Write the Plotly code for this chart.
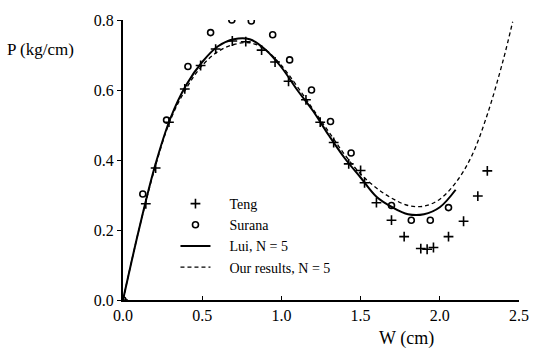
import plotly.graph_objects as go

# Teng data (+)
teng_w = [0.0, 0.144, 0.206, 0.29, 0.39, 0.49, 0.585, 0.69, 0.775, 0.875, 0.96, 1.045,
          1.155, 1.245, 1.33, 1.425, 1.5, 1.525, 1.6, 1.695, 1.775, 1.88, 1.92, 1.96,
          2.055, 2.15, 2.24, 2.3]
teng_p = [0.0, 0.275, 0.377, 0.508, 0.603, 0.67, 0.717, 0.74, 0.738, 0.714, 0.68, 0.625,
          0.572, 0.508, 0.45, 0.389, 0.37, 0.335, 0.278, 0.228, 0.181, 0.147, 0.145, 0.15,
          0.181, 0.225, 0.297, 0.369]

# Surana data (o)
surana_w = [0.0, 0.125, 0.275, 0.41, 0.553, 0.687, 0.81, 0.945, 1.052, 1.19, 1.31, 1.44,
            1.695, 1.82, 1.94, 2.055]
surana_p = [0.0, 0.303, 0.514, 0.667, 0.764, 0.80, 0.797, 0.758, 0.686, 0.60, 0.51, 0.42,
            0.27, 0.228, 0.228, 0.264]

# Lui, N = 5 (solid)
lui_w = [0.0, 0.1, 0.2, 0.3, 0.4, 0.5, 0.6, 0.7, 0.8, 0.9, 1.0, 1.1, 1.2, 1.3, 1.4,
         1.5, 1.6, 1.7, 1.8, 1.9, 2.0, 2.1]
lui_p = [0.0, 0.2, 0.38, 0.52, 0.615, 0.68, 0.725, 0.745, 0.745, 0.715, 0.665, 0.6,
         0.54, 0.47, 0.405, 0.35, 0.295, 0.265, 0.245, 0.245, 0.265, 0.315]

# Our results, N = 5 (dotted)
our_w = [0.0, 0.1, 0.2, 0.3, 0.4, 0.5, 0.6, 0.7, 0.8, 0.9, 1.0, 1.1, 1.2, 1.3, 1.4,
         1.5, 1.6, 1.7, 1.8, 1.9, 2.0, 2.1, 2.2, 2.3, 2.4, 2.46]
our_p = [0.0, 0.2, 0.375, 0.515, 0.605, 0.67, 0.71, 0.73, 0.735, 0.715, 0.67, 0.61,
         0.545, 0.48, 0.415, 0.36, 0.32, 0.29, 0.27, 0.268, 0.288, 0.335, 0.41, 0.53,
         0.685, 0.795]

x_ticks = [0.0, 0.5, 1.0, 1.5, 2.0, 2.5]
y_ticks = [0.0, 0.2, 0.4, 0.6, 0.8]

FONT = "Times New Roman, Liberation Serif, serif"
PAD = "\u00a0\u00a0\u00a0\u00a0"

fig = go.Figure()
fig.add_trace(go.Scatter(x=teng_w, y=teng_p, mode="markers", name=PAD + "Teng",
                         marker=dict(symbol="cross-thin", size=7, color="black",
                                     line=dict(color="black", width=1.6))))
fig.add_trace(go.Scatter(x=surana_w, y=surana_p, mode="markers", name=PAD + "Surana",
                         marker=dict(symbol="circle-open", size=6, color="black",
                                     line=dict(color="black", width=1.6))))
fig.add_trace(go.Scatter(x=lui_w, y=lui_p, mode="lines", name=PAD + "Lui, N = 5",
                         line=dict(color="black", width=2, shape="spline")))
fig.add_trace(go.Scatter(x=our_w, y=our_p, mode="lines", name=PAD + "Our results, N = 5",
                         line=dict(color="black", width=1.3, dash="4px,3px", shape="spline")))

fig.update_layout(
    width=541, height=354,
    margin=dict(l=123, r=18, t=12, b=54),
    paper_bgcolor="white", plot_bgcolor="white",
    font=dict(family=FONT, color="black", size=15),
    showlegend=True,
    legend=dict(x=0.1325, y=0.40, xanchor="left", yanchor="top",
                bgcolor="rgba(0,0,0,0)", font=dict(family=FONT, size=14, color="black"),
                itemwidth=30, tracegroupgap=0),
    xaxis=dict(range=[0, 2.5], tickvals=x_ticks, ticktext=[f"{v:.1f}" for v in x_ticks],
               showline=True, linecolor="black", linewidth=2, ticks="inside", ticklen=4,
               tickcolor="black", showgrid=False, zeroline=False,
               tickfont=dict(family=FONT, size=16, color="black")),
    yaxis=dict(range=[0, 0.8], tickvals=y_ticks, ticktext=[f"{v:.1f}" for v in y_ticks],
               showline=True, linecolor="black", linewidth=2, ticks="outside", ticklen=4,
               tickcolor="black", showgrid=False, zeroline=False,
               tickfont=dict(family=FONT, size=16, color="black")),
    annotations=[
        dict(text="P (kg/cm)", xref="paper", yref="paper", x=-0.2975, y=(300 - 42) / 288,
             xanchor="left", yanchor="middle", showarrow=False,
             font=dict(family=FONT, size=17, color="black")),
        dict(text="W (cm)", xref="x", yref="paper", x=1.79, y=-0.139,
             xanchor="center", yanchor="middle", showarrow=False,
             font=dict(family=FONT, size=18, color="black")),
    ],
)

fig.write_html("out.html")
